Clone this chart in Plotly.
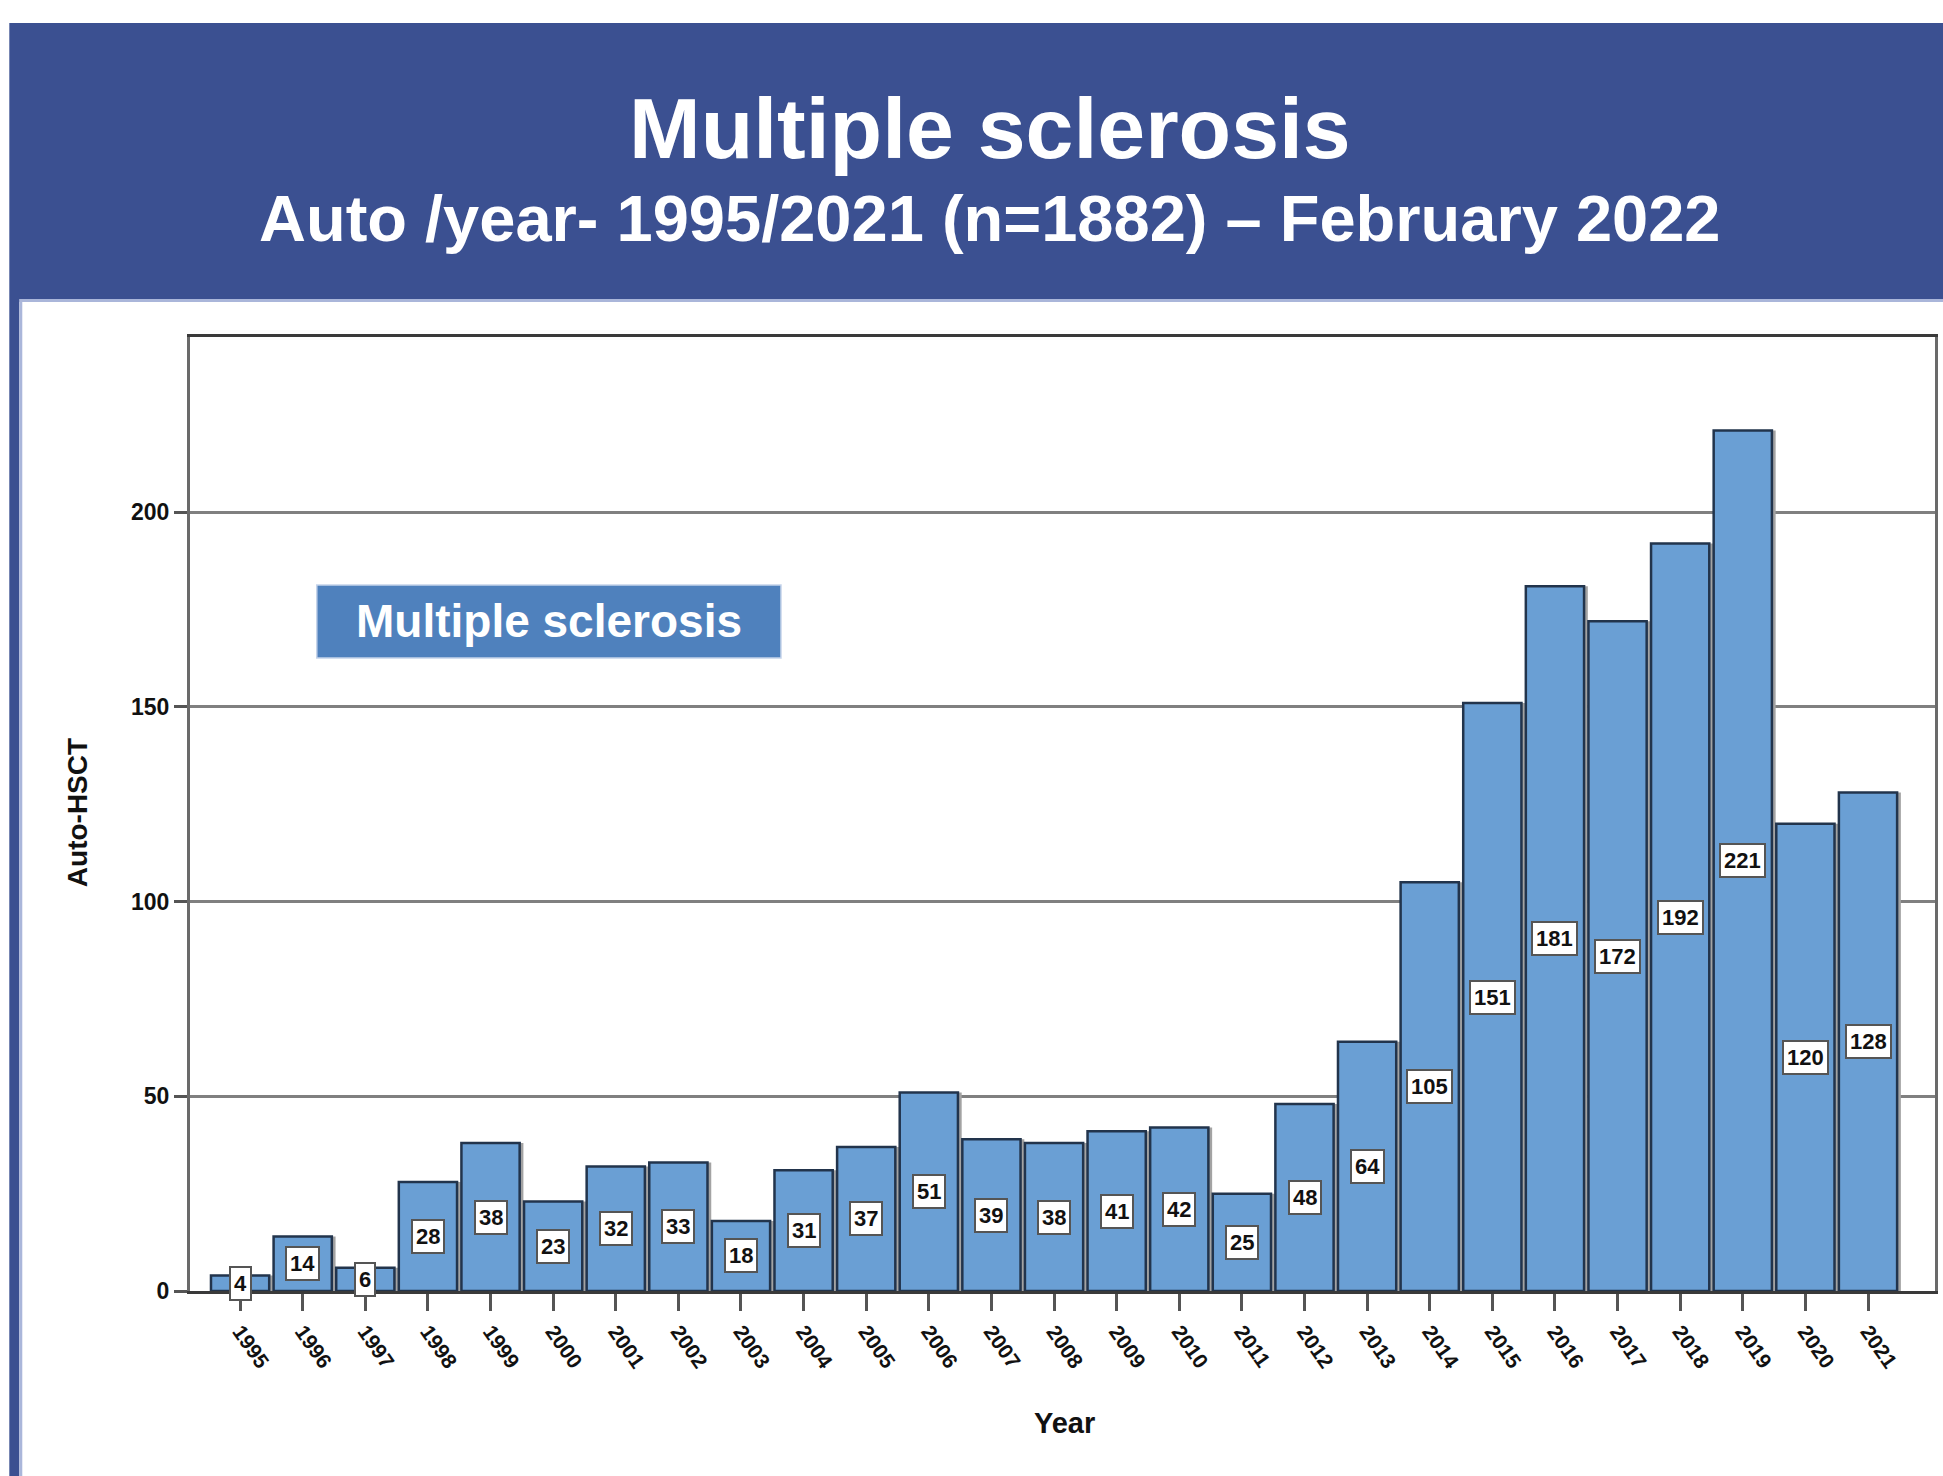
import plotly.graph_objects as go

years = [str(y) for y in range(1995, 2022)]
values = [4, 14, 6, 28, 38, 23, 32, 33, 18, 31, 37, 51, 39, 38, 41, 42, 25, 48,
          64, 105, 151, 181, 172, 192, 221, 120, 128]
y_ticks = [0, 50, 100, 150, 200]

title_text = "Multiple sclerosis"
subtitle_text = "Auto /year- 1995/2021 (n=1882) \u2013 February 2022"
box_text = "Multiple sclerosis"
y_title = "Auto-HSCT"
x_title = "Year"

W, H = 1943, 1476
L, R, T, B = 190, 1938, 337, 1291
FONT = "Arial, Liberation Sans, sans-serif"
HEADER = "#3b5091"
BAR = "#6a9fd4"
BAR_W = 0.93


def px(x):
    return (x - L) / (R - L)


def py(y):
    return (B - y) / (B - T)


idx = list(range(len(years)))

fig = go.Figure()
# soft grey drop shadow behind each bar
fig.add_trace(go.Bar(
    x=idx, y=values, width=BAR_W, offset=-BAR_W / 2 + 0.06,
    marker=dict(color="#a3a3a3", line=dict(width=0)), hoverinfo="skip",
))
fig.add_trace(go.Bar(
    x=idx, y=values, width=BAR_W, offset=-BAR_W / 2,
    marker=dict(color=BAR, line=dict(color="#22344c", width=2.5)),
    customdata=years, hovertemplate="%{customdata}: %{y}<extra></extra>",
))

annotations = []
for i, v in zip(idx, values):
    annotations.append(dict(
        x=i, y=v / 2, xref="x", yref="y", text=f"<b>{v}</b>", showarrow=False,
        font=dict(family=FONT, size=22, color="#111"),
        bgcolor="white", bordercolor="#555", borderwidth=2, borderpad=3,
    ))

annotations += [
    dict(x=px(991), y=py(128), xref="paper", yref="paper", text=f"<b>{title_text}</b>",
         showarrow=False, font=dict(family=FONT, size=86, color="white"),
         xanchor="center", yanchor="middle"),
    dict(x=px(991), y=py(219), xref="paper", yref="paper", text=f"<b>{subtitle_text}</b>",
         showarrow=False, font=dict(family=FONT, size=65, color="white"),
         xanchor="center", yanchor="middle"),
    dict(x=px(550), y=py(621), xref="paper", yref="paper", text=f"<b>{box_text}</b>",
         showarrow=False, font=dict(family=FONT, size=46, color="white"),
         xanchor="center", yanchor="middle"),
    dict(x=px(77), y=py(813), xref="paper", yref="paper", text=f"<b>{y_title}</b>",
         showarrow=False, textangle=-90, font=dict(family=FONT, size=28, color="#111"),
         xanchor="center", yanchor="middle"),
    dict(x=px(1066), y=py(1423), xref="paper", yref="paper", text=f"<b>{x_title}</b>",
         showarrow=False, font=dict(family=FONT, size=29, color="#111"),
         xanchor="center", yanchor="middle"),
]

shapes = [
    dict(type="rect", xref="paper", yref="paper", x0=px(9), x1=px(W + 5), y0=py(299), y1=py(23),
         fillcolor=HEADER, line=dict(width=0), layer="below"),
    dict(type="rect", xref="paper", yref="paper", x0=px(19), x1=px(W + 5), y0=py(302), y1=py(299),
         fillcolor="#aab6da", line=dict(width=0), layer="below"),
    dict(type="rect", xref="paper", yref="paper", x0=px(9), x1=px(19), y0=py(H + 5), y1=py(299),
         fillcolor=HEADER, line=dict(width=0), layer="below"),
    dict(type="rect", xref="paper", yref="paper", x0=px(19), x1=px(22), y0=py(H + 5), y1=py(302),
         fillcolor="#aab6da", line=dict(width=0), layer="below"),
    dict(type="rect", xref="paper", yref="paper", x0=px(317), x1=px(782), y0=py(658), y1=py(585),
         fillcolor="#4f81bd", line=dict(color="#c5d3ea", width=1.5), layer="above"),
]

fig.update_layout(
    width=W, height=H,
    margin=dict(l=L, r=W - R, t=T, b=H - B, pad=0),
    paper_bgcolor="white", plot_bgcolor="white",
    showlegend=False, barmode="overlay",
    font=dict(family=FONT, color="#111"),
    annotations=annotations, shapes=shapes,
    xaxis=dict(
        range=[-0.8, 27.07], tickvals=idx, ticktext=[f"<b>{y}</b>" for y in years],
        showline=True, linecolor="#3a3a3a", linewidth=3, mirror=True,
        ticks="outside", ticklen=17, tickwidth=3, tickcolor="#555",
        tickangle=55, tickfont=dict(family=FONT, size=21, color="#111"),
        showgrid=False, zeroline=False,
    ),
    yaxis=dict(
        range=[0, 245], tickvals=y_ticks, ticktext=[f"<b>{t}</b>" for t in y_ticks],
        showline=True, linecolor="#6a6a6a", linewidth=3, mirror=True,
        ticks="outside", ticklen=13, tickwidth=3, tickcolor="#555",
        tickfont=dict(family=FONT, size=23, color="#111"),
        showgrid=True, gridcolor="#808080", gridwidth=2.5,
        zeroline=False,
    ),
)

fig.write_html("out.html", config={"displayModeBar": False},
               post_script="document.body.style.margin='0';")
